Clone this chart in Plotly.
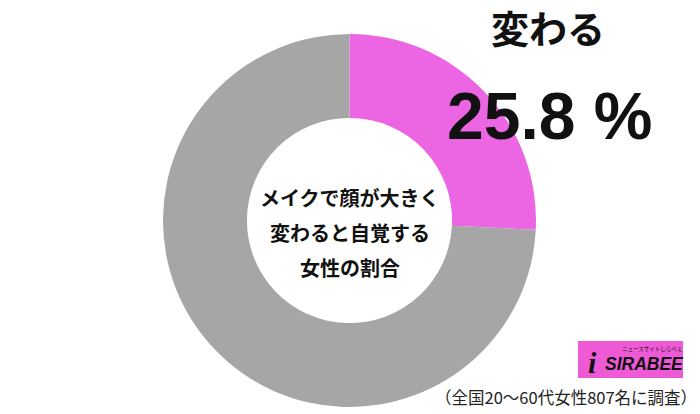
import plotly.graph_objects as go

labels = ["変わる", "その他"]
values = [25.8, 74.2]
colors = ["#EC66E4", "#A6A6A6"]
center_lines = ["メイクで顔が大きく", "変わると自覚する", "女性の割合"]
headline = "変わる"
headline_value = "25.8 %"
footnote = "（全国20～60代女性807名に調査）"

W, H = 700, 414
cx, cy, r = 349.5, 220.5, 186.5

fig = go.Figure(go.Pie(
    labels=labels, values=values, hole=0.55, sort=False, direction="clockwise",
    rotation=0, marker=dict(colors=colors, line=dict(width=0)),
    textinfo="none", hoverinfo="skip", showlegend=False,
    domain=dict(x=[(cx - r) / W, (cx + r) / W], y=[(H - cy - r) / H, (H - cy + r) / H]),
))

jp = "Noto Sans CJK JP"
ann = []
for i, line in enumerate(center_lines):
    ann.append(dict(x=cx / W, y=1 - (197 + 35 * i) / H, xref="paper", yref="paper",
                    text=line, showarrow=False, xanchor="center", yanchor="middle",
                    font=dict(family=jp, size=20, color="#111111", weight="bold")))
ann.append(dict(x=548 / W, y=1 - 27 / H, xref="paper", yref="paper", text=headline,
                showarrow=False, xanchor="center", yanchor="middle",
                font=dict(family=jp, size=38, color="#111111", weight="bold")))
ann.append(dict(x=549 / W, y=1 - 116 / H, xref="paper", yref="paper", text=headline_value,
                showarrow=False, xanchor="center", yanchor="middle",
                font=dict(family="Liberation Sans", size=66, color="#111111", weight="bold")))
ann.append(dict(x=699 / W, y=1 - 397 / H, xref="paper", yref="paper", text=footnote,
                showarrow=False, xanchor="right", yanchor="middle",
                font=dict(family=jp, size=16.5, color="#222222")))
# logo
ann.append(dict(x=603 / W, y=1 - 364 / H, xref="paper", yref="paper", text="<i>SIRABEE</i>",
                showarrow=False, xanchor="left", yanchor="middle",
                font=dict(family="Liberation Sans", size=17.5, color="#111111", weight="bold")))
ann.append(dict(x=620 / W, y=1 - 349 / H, xref="paper", yref="paper", text="ニュースサイトしらべぇ",
                showarrow=False, xanchor="left", yanchor="middle",
                font=dict(family=jp, size=5.5, color="#111111")))
ann.append(dict(x=592 / W, y=1 - 362 / H, xref="paper", yref="paper", text="<i>i</i>",
                showarrow=False, xanchor="center", yanchor="middle",
                font=dict(family="Liberation Serif", size=30, color="#111111", weight="bold")))

fig.update_layout(
    width=W, height=H, margin=dict(l=0, r=0, t=0, b=0),
    paper_bgcolor="white", plot_bgcolor="white",
    annotations=ann,
    shapes=[dict(type="rect", xref="paper", yref="paper",
                 x0=578 / W, x1=683 / W, y0=1 - 378 / H, y1=1 - 341 / H,
                 fillcolor="#EE5AD6", line=dict(width=0), layer="below")],
)
fig.write_html("out.html", config={"displayModeBar": False},
               post_script="document.body.style.margin='0';document.body.style.overflow='hidden';")
